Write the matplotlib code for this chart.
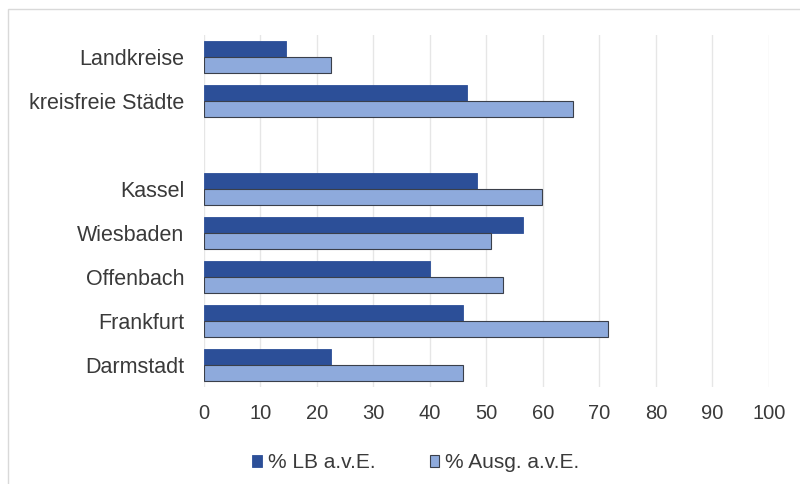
import numpy as np
import matplotlib.pyplot as plt
from matplotlib.patches import Rectangle

plt.rcParams['font.family'] = ['Liberation Sans', 'DejaVu Sans']

# categories top to bottom, empty entry leaves a gap between groups
categories = ['Landkreise', 'kreisfreie Städte', '', 'Kassel', 'Wiesbaden',
              'Offenbach', 'Frankfurt', 'Darmstadt']
lb_ave = [14.6, 46.6, np.nan, 48.3, 56.4, 40.1, 45.9, 22.5]
ausg_ave = [22.4, 65.4, np.nan, 59.9, 50.8, 52.9, 71.6, 45.8]
series_names = ['% LB a.v.E.', '% Ausg. a.v.E.']

dark = '#2c4f98'
light = '#8eaadc'
edge = '#3a3f4a'
text_col = '#3a3a3a'

fig = plt.figure(figsize=(8, 4.84), dpi=100)
ax = fig.add_axes([0.255, 0.2004, 0.706, 0.7276])

# outer chart frame
fig.patches.append(Rectangle((8 / 800, -0.1), 1.2, 1 - 9 / 484 + 0.1,
                             transform=fig.transFigure, fill=False,
                             edgecolor='#d9d9d9', linewidth=1.0))

y = np.arange(len(categories))
h = 0.365
ax.barh(y - h / 2, lb_ave, height=h, color=dark, edgecolor=dark,
        linewidth=0.6, label=series_names[0], zorder=3)
ax.barh(y + h / 2, ausg_ave, height=h, color=light, edgecolor=edge,
        linewidth=0.8, label=series_names[1], zorder=3)

ax.set_xlim(0, 100)
ax.set_ylim(len(categories) - 0.5, -0.5)
ax.set_xticks(np.arange(0, 101, 10))
ax.set_yticks(y)
ax.set_yticklabels(categories, fontsize=15.5)
ax.tick_params(axis='both', length=0, colors=text_col)
ax.tick_params(axis='x', pad=12, labelsize=14.5)
ax.tick_params(axis='y', pad=14)

ax.grid(axis='x', color='#e6e6e6', linewidth=1.0, zorder=0)
for s in ax.spines.values():
    s.set_visible(False)

fig.legend(loc='center', bbox_to_anchor=(0.52, 1 - 463 / 484), ncol=2,
           frameon=False, fontsize=15, handlelength=0.45, handleheight=0.45,
           handletextpad=0.3, columnspacing=2.6, labelcolor=text_col)

fig.savefig('out.png', dpi=100)
